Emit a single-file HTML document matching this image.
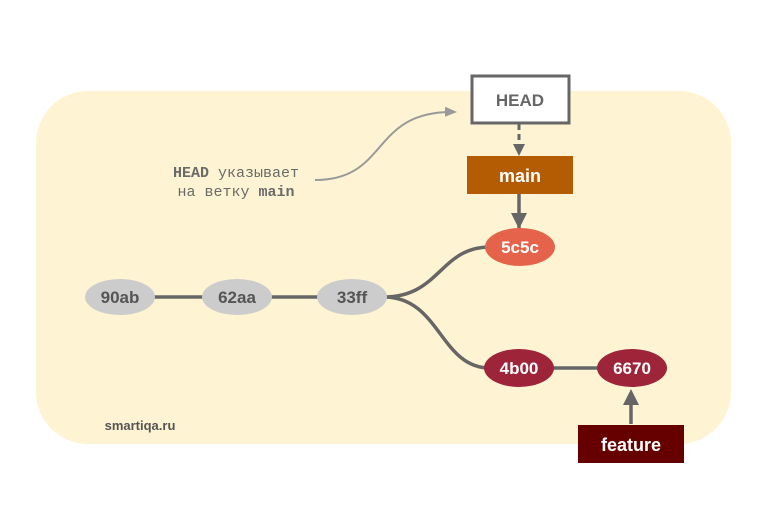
<!DOCTYPE html>
<html><head><meta charset="utf-8"><style>body{margin:0;background:#fff}svg{display:block}</style></head><body>
<svg width="768" height="528" viewBox="0 0 768 528" xmlns="http://www.w3.org/2000/svg">
<defs>
<marker id="a" markerWidth="12" markerHeight="12" refX="10" refY="6" orient="auto" markerUnits="userSpaceOnUse"><path d="M0,0L12,6L0,12z" fill="#666"/></marker>
<marker id="g" markerWidth="12" markerHeight="10" refX="10" refY="5" orient="auto" markerUnits="userSpaceOnUse"><path d="M0,0L12,5L0,10z" fill="#999"/></marker>
</defs>
<rect x="36" y="91" width="695" height="353" rx="52" fill="#fef4d3"/>
<g stroke="#666" stroke-width="3.5" fill="none">
<path d="M150 297H210M268 297H320"/>
<path d="M384 297C440 297 440 247 490 247"/>
<path d="M384 297C440 297 440 368 490 368"/>
<path d="M552 368H600"/>
</g>
<path d="M315 180C390 180 370 110 455 112" stroke="#999" stroke-width="2" fill="none" marker-end="url(#g)"/>
<path d="M519 124V154" stroke="#666" stroke-width="3" stroke-dasharray="6,4" fill="none" marker-end="url(#a)"/>
<path d="M519 194V228" stroke="#666" stroke-width="3.5" fill="none"/>
<path d="M511 213L519 229L527 213z" fill="#666"/>
<path d="M631 424V395" stroke="#666" stroke-width="3.5" fill="none"/>
<path d="M623 405L631 389L639 405z" fill="#666"/>
<rect x="472" y="76" width="97" height="47" fill="#fff" stroke="#666" stroke-width="3"/>
<rect x="467" y="156" width="106" height="38" fill="#b35c03"/>
<rect x="578" y="425" width="106" height="38" fill="#660000"/>
<g fill="#ccc"><ellipse cx="120" cy="297" rx="35" ry="18"/><ellipse cx="237" cy="297" rx="35" ry="18"/><ellipse cx="352" cy="297" rx="35" ry="18"/></g>
<ellipse cx="520" cy="247" rx="35" ry="19" fill="#e5634a"/>
<ellipse cx="519" cy="368" rx="35" ry="19" fill="#9e243a"/>
<ellipse cx="632" cy="368" rx="35" ry="19" fill="#9e243a"/>
<g font-family="Liberation Sans, sans-serif" font-weight="bold" font-size="17" text-anchor="middle">
<text x="120" y="303" fill="#555">90ab</text>
<text x="237" y="303" fill="#555">62aa</text>
<text x="352" y="303" fill="#555">33ff</text>
<text x="520" y="253" fill="#fff">5c5c</text>
<text x="519" y="374" fill="#fff">4b00</text>
<text x="632" y="374" fill="#fff">6670</text>
<text x="520" y="106" fill="#666">HEAD</text>
<text x="520" y="182" fill="#fff" font-size="18">main</text>
<text x="631" y="451" fill="#fff" font-size="18">feature</text>
<text x="140" y="430" fill="#555" font-size="13">smartiqa.ru</text>
</g>
<g font-family="Liberation Mono, monospace" font-size="15" fill="#6a6a6a" text-anchor="middle">
<text x="236" y="177"><tspan font-weight="bold">HEAD</tspan> указывает</text>
<text x="236" y="196">на ветку <tspan font-weight="bold">main</tspan></text>
</g>
</svg>
</body></html>
